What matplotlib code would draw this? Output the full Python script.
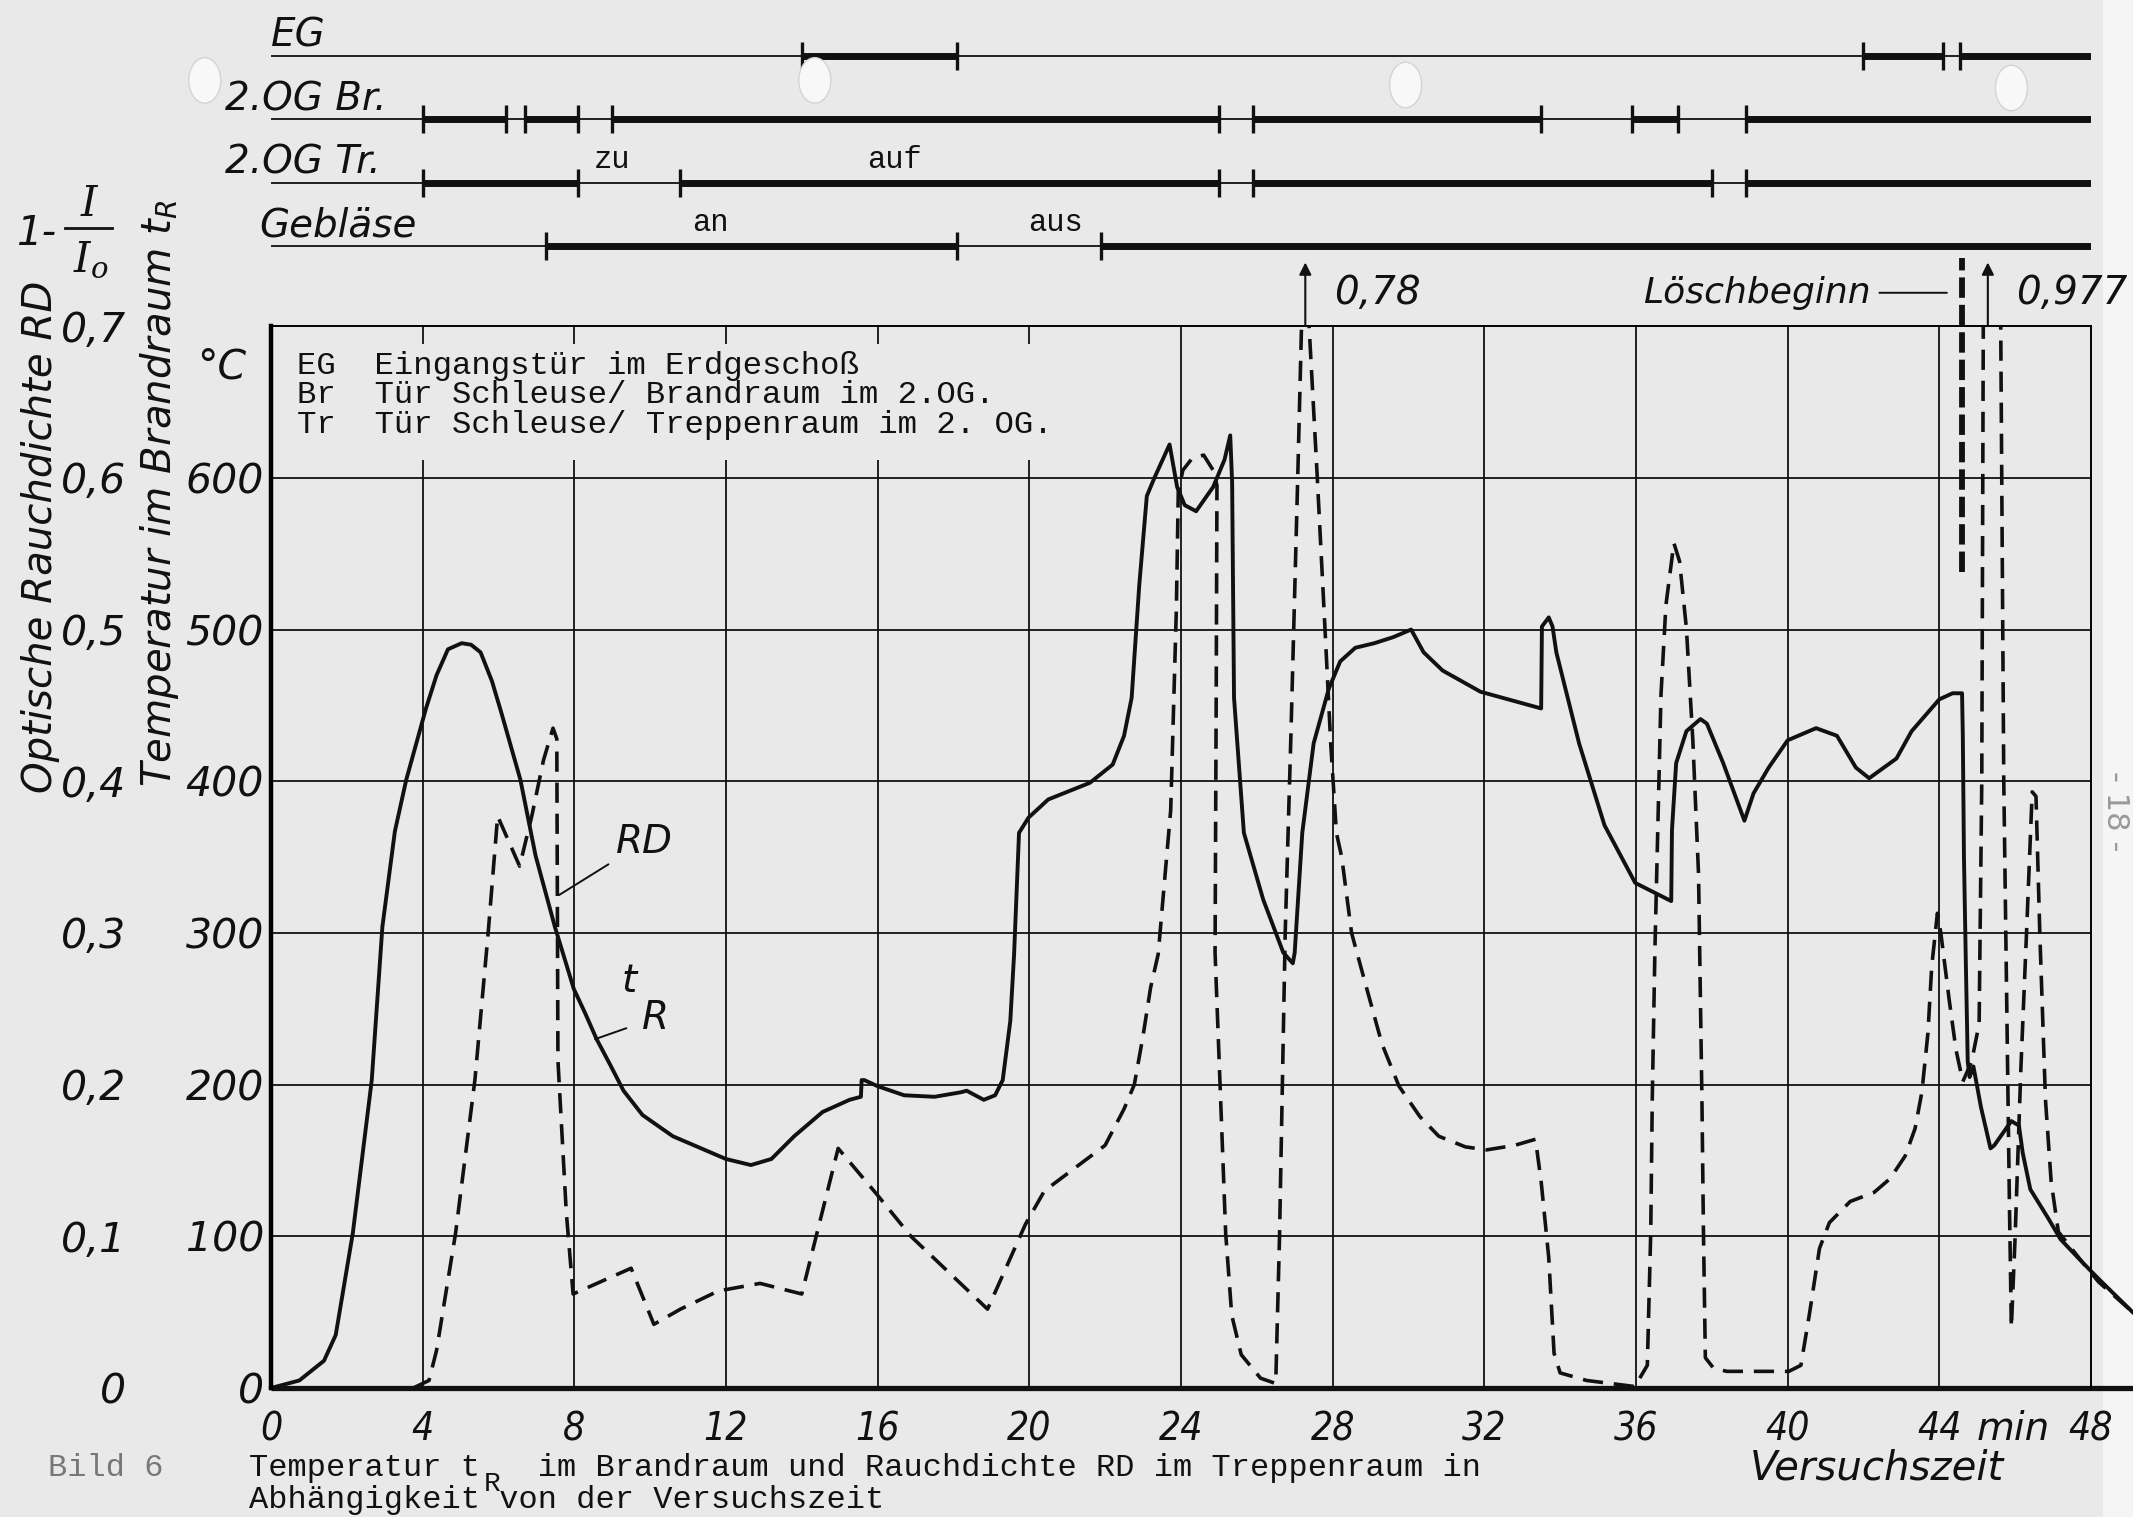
import matplotlib
matplotlib.use("Agg")
import matplotlib.pyplot as plt
from matplotlib.patches import Rectangle, Ellipse
from matplotlib.lines import Line2D

# Temperature in the fire room t_R (min, degC)
tr_time = [0, 0.75, 1.4, 1.71, 2.16, 2.66, 2.94, 3.27, 3.57, 4.09,
           4.37, 4.67, 5.03, 5.28, 5.53, 5.83, 6.08, 6.58, 6.98, 7.49,
           7.99, 8.29, 8.59, 8.95, 9.3, 9.8, 10.6, 12.0, 12.66, 13.2,
           13.8, 14.55, 15.26, 15.56, 15.58, 15.65, 16.0, 16.7, 17.5, 18.2,
           18.35, 18.8, 19.1, 19.3, 19.5, 19.6, 19.73, 19.98, 20.5, 21.6,
           22.2, 22.5, 22.7, 22.9, 23.1, 23.3, 23.7, 23.9, 24.1, 24.4,
           24.85, 25.15, 25.3, 25.35, 25.4, 25.66, 26.17, 26.7, 26.95, 27.0,
           27.2, 27.5, 27.9, 28.2, 28.6, 29.1, 29.6, 30.07, 30.4, 30.9,
           31.9, 33.5, 33.52, 33.7, 33.8, 33.9, 34.5, 35.17, 35.98, 36.93,
           36.95, 37.06, 37.33, 37.7, 37.87, 38.3, 38.86, 39.1, 39.5, 40.0,
           40.75, 41.3, 41.8, 42.15, 42.87, 43.27, 44.0, 44.35, 44.6, 44.62,
           44.65, 44.7, 44.75, 44.8, 44.9, 45.1, 45.35, 45.45, 45.9, 46.1,
           46.2, 46.4, 46.87, 47.2, 47.77, 48.2, 49.1]
tr_temp = [0, 5, 18, 35, 102, 203, 304, 367, 401, 448,
           470, 487, 491, 490, 485, 466, 445, 401, 351, 304,
           263, 247, 230, 213, 196, 180, 166, 151, 147, 151,
           166, 182, 190, 192, 203, 203, 199, 193, 192, 195,
           196, 190, 193, 203, 242, 286, 366, 376, 388, 399,
           411, 430, 455, 529, 588, 600, 622, 594, 582, 578,
           594, 612, 628, 597, 455, 366, 322, 287, 280, 287,
           366, 425, 461, 479, 488, 491, 495, 500, 485, 473,
           459, 448, 502, 508, 502, 485, 425, 371, 333, 321,
           368, 412, 433, 441, 438, 412, 374, 392, 409, 427,
           435, 430, 409, 402, 415, 433, 454, 458, 458, 430,
           350, 280, 215, 205, 212, 185, 158, 160, 176, 173,
           155, 131, 112, 98, 83, 72, 50]

# Optical smoke density RD = 1 - I/Io in the staircase
rd_time = [3.75, 4.17, 4.37, 4.87, 5.38, 5.73, 5.98, 6.56, 6.88, 7.19,
           7.44, 7.54, 7.57, 7.79, 7.97, 9.5, 10.1, 10.8, 11.8, 12.9,
           14.0, 14.96, 15.97, 16.88, 18.9, 19.9, 20.4, 21.2, 22.0, 22.5,
           22.77, 23.0, 23.2, 23.4, 23.73, 23.88, 23.93, 24.05, 24.3, 24.6,
           24.85, 24.95, 24.93, 24.9, 25.18, 25.34, 25.59, 26.1, 26.5, 26.6,
           26.75, 26.9, 27.08, 27.18, 27.28, 27.38, 27.59, 27.79, 27.95, 28.1,
           28.24, 28.5, 28.86, 29.3, 29.75, 30.3, 30.8, 31.5, 32.06, 32.8,
           33.35, 33.5, 33.7, 33.84, 34.0, 34.7, 35.97, 36.3, 36.39, 36.43,
           36.5, 36.66, 36.79, 37.0, 37.15, 37.33, 37.5, 37.65, 37.74, 37.78,
           37.83, 38.05, 38.4, 40.03, 40.35, 40.57, 40.84, 41.1, 41.65, 42.28,
           42.7, 43.1, 43.36, 43.54, 43.7, 43.8, 43.95, 44.04, 44.26, 44.44,
           44.62, 44.85, 45.05, 45.12, 45.16, 45.38, 45.62, 45.7, 45.78, 45.85,
           45.9, 46.0, 46.15, 46.3, 46.45, 46.55, 46.65, 46.8, 46.95, 47.14,
           47.77, 48.2, 49.1]
rd_value = [0.0, 0.005, 0.025, 0.102, 0.203, 0.300, 0.377, 0.344, 0.377, 0.414,
            0.435, 0.428, 0.216, 0.116, 0.062, 0.079, 0.042, 0.052, 0.064, 0.069,
            0.062, 0.158, 0.128, 0.100, 0.052, 0.108, 0.130, 0.145, 0.160, 0.184,
            0.200, 0.232, 0.264, 0.286, 0.381, 0.514, 0.591, 0.605, 0.613, 0.615,
            0.605, 0.595, 0.455, 0.287, 0.102, 0.048, 0.022, 0.0065, 0.003, 0.10,
            0.30, 0.43, 0.60, 0.70, 0.78, 0.70, 0.603, 0.505, 0.425, 0.366,
            0.350, 0.300, 0.267, 0.227, 0.199, 0.179, 0.166, 0.159, 0.157, 0.160,
            0.164, 0.136, 0.086, 0.023, 0.010, 0.005, 0.001, 0.015, 0.103, 0.190,
            0.289, 0.457, 0.516, 0.557, 0.545, 0.501, 0.427, 0.339, 0.190, 0.103,
            0.020, 0.013, 0.011, 0.011, 0.015, 0.048, 0.092, 0.109, 0.123, 0.129,
            0.138, 0.153, 0.171, 0.195, 0.234, 0.278, 0.313, 0.300, 0.256, 0.223,
            0.202, 0.215, 0.240, 0.400, 0.700, 0.977, 0.700, 0.400, 0.250, 0.120,
            0.040, 0.100, 0.210, 0.300, 0.393, 0.390, 0.300, 0.190, 0.136, 0.103,
            0.083, 0.070, 0.050]

# door / fan states, thick = open resp. running (min)
row_names = ["EG", "2.OG Br.", "2.OG Tr.", "Gebläse"]
row_spans = [
    [(14.0, 18.1), (42.0, 44.1), (44.55, 48.0)],
    [(4.0, 6.2), (6.7, 8.1), (9.0, 25.0), (25.9, 33.5), (35.9, 37.1), (38.9, 48.0)],
    [(4.0, 8.1), (10.8, 25.0), (25.9, 38.0), (38.9, 48.0)],
    [(7.25, 18.1), (21.9, 48.0)],
]
state_labels = [(2, 9.0, "zu"), (2, 16.45, "auf"), (3, 11.6, "an"), (3, 20.7, "aus")]

time_ticks = list(range(0, 49, 4))
temp_ticks = [0, 100, 200, 300, 400, 500, 600]
rd_ticks = [0, 0.1, 0.2, 0.3, 0.4, 0.5, 0.6, 0.7]

peaks_off_scale = [(27.28, "0,78"), (45.28, "0,977")]
loesch_time = 44.6
loesch_range = (0.538, 0.745)

legend_lines = ["EG  Eingangstür im Erdgeschoß",
                "Br  Tür Schleuse/ Brandraum im 2.OG.",
                "Tr  Tür Schleuse/ Treppenraum im 2. OG."]

INK = "#111111"
PAPER = "#e9e9e9"
ITAL = dict(family="DejaVu Sans", style="italic", color=INK)
TYPE = dict(family="Liberation Mono", color=INK)

fig = plt.figure(figsize=(21.33, 15.17), dpi=100, facecolor=PAPER)
fig.patches.append(Rectangle((0.986, 0), 0.014, 1, transform=fig.transFigure,
                             facecolor="#f5f5f5", edgecolor="none", zorder=-1))
for cx, cy in [(0.096, 0.947), (0.382, 0.947), (0.659, 0.944), (0.943, 0.942)]:
    fig.patches.append(Ellipse((cx, cy), 0.015, 0.030, transform=fig.transFigure,
                               facecolor="#f8f8f8", edgecolor="#d4d4d4", lw=1.0))

L, W = 0.127, 0.8533
ax = fig.add_axes([L, 0.085, W, 0.700])
ax.set_facecolor("none")
ax.set_xlim(0, 48)
ax.set_ylim(0, 700)

# grid: lines 4..20 min are interrupted in the legend band
for x in time_ticks[1:-1]:
    if x <= 20:
        ax.vlines([x, x, x], [0, 600, 688], [600, 612, 700], color=INK, lw=1.3)
    else:
        ax.vlines(x, 0, 700, color=INK, lw=1.3)
ax.hlines(temp_ticks[1:], 0, 48, color=INK, lw=1.3)

for side in ["top", "right"]:
    ax.spines[side].set_linewidth(1.4)
ax.spines["left"].set_linewidth(3.2)
ax.spines["bottom"].set_visible(False)
ax.axhline(0, xmin=0, xmax=tr_time[-1] / 48, color=INK, lw=3.8, clip_on=False,
           solid_capstyle="butt")

clip_t = Rectangle((-1, -20), 51, 720, transform=ax.transData)
line_t, = ax.plot(tr_time, tr_temp, color=INK, lw=2.8, solid_joinstyle="round")
line_t.set_clip_path(clip_t)

ax2 = ax.twinx()
ax2.set_ylim(0, 0.7)
for s in ax2.spines.values():
    s.set_visible(False)
clip_r = Rectangle((-1, -0.02), 51, 0.72, transform=ax2.transData)
line_r, = ax2.plot(rd_time, rd_value, color=INK, lw=2.6, linestyle=(0, (5.6, 3.0)))
line_r.set_clip_path(clip_r)

# ticks
ax.set_xticks(time_ticks)
ax.set_xticklabels([str(t) for t in time_ticks], fontsize=28,
                   fontstretch="condensed", **ITAL)
ax.tick_params(axis="x", length=0, pad=16)
ax.set_yticks(temp_ticks)
ax.set_yticklabels([str(t) for t in temp_ticks], fontsize=29.5, **ITAL)
ax.tick_params(axis="y", length=0, pad=5)
ax2.yaxis.tick_left()
ax2.set_yticks(rd_ticks)
ax2.set_yticklabels(["0" if v == 0 else f"{v:.1f}".replace(".", ",") for v in rd_ticks],
                    fontsize=29.5, **ITAL)
ax2.tick_params(axis="y", length=0, pad=104)

ax.text(45.95, -27, "min", fontsize=28, ha="center", va="center", clip_on=False, **ITAL)
ax.text(-1.3, 673, "°C", fontsize=29.5, ha="center", va="center", clip_on=False, **ITAL)

# legend inside plot
for i, s in enumerate(legend_lines):
    ax.text(0.68, 674 - i * 19.5, s, fontsize=23.3, ha="left", va="center", **TYPE)

# curve labels
ax.annotate("RD", xy=(7.6, 325), xytext=(9.85, 360), fontsize=28, ha="center", va="center",
            arrowprops=dict(arrowstyle="-", lw=1.4, color=INK, shrinkA=4, shrinkB=0), **ITAL)
ax.text(9.45, 268, "t", fontsize=28, ha="center", va="center", **ITAL)
ax.annotate("R", xy=(8.55, 230), xytext=(10.15, 244), fontsize=28, ha="center", va="center",
            arrowprops=dict(arrowstyle="-", lw=1.4, color=INK, shrinkA=10, shrinkB=0), **ITAL)

# off-scale peaks
for xp, lab in peaks_off_scale:
    ax.annotate("", xy=(xp, 742), xytext=(xp, 700), annotation_clip=False,
                arrowprops=dict(arrowstyle="-|>", lw=1.5, color=INK, mutation_scale=18,
                                shrinkA=0, shrinkB=0))
    ax.text(xp + 0.75, 722, lab, fontsize=28, ha="left", va="center", clip_on=False, **ITAL)

ax2.plot([loesch_time, loesch_time], loesch_range, color=INK, lw=4.2,
         linestyle=(0, (3.5, 1.2)), clip_on=False)
ax.annotate("Löschbeginn", xy=(loesch_time - 0.4, 722), xytext=(42.2, 722),
            fontsize=26, ha="right", va="center", annotation_clip=False,
            arrowprops=dict(arrowstyle="-", lw=1.4, color=INK, shrinkA=4, shrinkB=0), **ITAL)

# door / fan state rows
bx = fig.add_axes([L, 0.822, W, 0.1648])
bx.set_xlim(0, 48)
bx.set_ylim(3.38, -0.57)
bx.axis("off")
label_x = [0.0, -1.2, -1.2, -0.3]
for i, spans in enumerate(row_spans):
    bx.hlines(i, 0, 48, color=INK, lw=1.3)
    starts = [s for s, e in spans]
    ends = [e for s, e in spans]
    bx.hlines([i] * len(spans), starts, ends, color=INK, lw=5.0)
    edges = sorted(set(starts + [e for e in ends if e < 48]))
    bx.vlines(edges, i - 0.22, i + 0.22, color=INK, lw=2.4)
    bx.text(label_x[i], i - 0.02, row_names[i], fontsize=28, ha="left", va="bottom",
            clip_on=False, **ITAL)
for r, x, s in state_labels:
    bx.text(x, r - 0.36, s, fontsize=22, ha="center", va="center", **TYPE)

# axis titles
fig.text(0.019, 0.646, "Optische Rauchdichte RD", rotation=90, fontsize=29,
         ha="center", va="center", **ITAL)
fig.text(0.075, 0.675, "Temperatur im Brandraum $t_R$", rotation=90, fontsize=29,
         ha="center", va="center", **ITAL)
# 1 - I / Io
fig.text(0.017, 0.846, "1-", fontsize=29, ha="center", va="center", **ITAL)
fig.text(0.0415, 0.8655, "I", fontsize=30, ha="center", va="center",
         family="DejaVu Serif", style="italic", color=INK)
fig.text(0.0425, 0.829, "$I_o$", fontsize=30, ha="center", va="center", color=INK,
         math_fontfamily="dejavuserif")
fig.add_artist(Line2D([0.0305, 0.0525], [0.8497, 0.8497], transform=fig.transFigure,
                      color=INK, lw=2.0))
fig.text(0.880, 0.032, "Versuchszeit", fontsize=29, ha="center", va="center", **ITAL)

# caption
fig.text(0.0225, 0.032, "Bild 6", fontsize=23, ha="left", va="center",
         family="Liberation Mono", color="#777777")
fig.text(0.1167, 0.032, "Temperatur t   im Brandraum und Rauchdichte RD im Treppenraum in",
         fontsize=23, ha="left", va="center", **TYPE)
fig.text(0.1167, 0.011, "Abhängigkeit von der Versuchszeit", fontsize=23, ha="left",
         va="center", **TYPE)
fig.text(0.227, 0.0215, "R", fontsize=20, ha="left", va="center", **TYPE)
fig.text(0.992, 0.465, "- 18 -", rotation=-90, fontsize=22, ha="center", va="center",
         color="#999999")

fig.savefig("out.png", dpi=100, facecolor=PAPER)
